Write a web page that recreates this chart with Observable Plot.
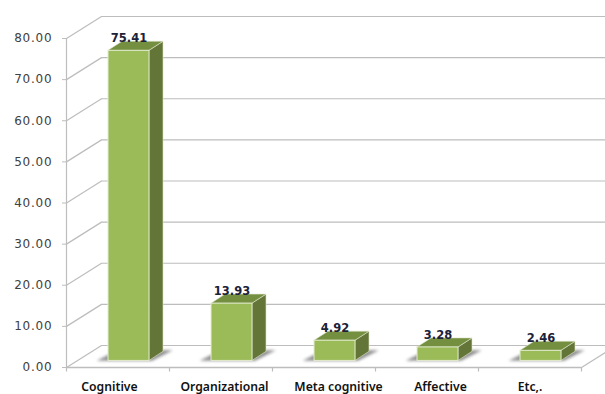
<!DOCTYPE html>
<html>
<head>
<meta charset="utf-8">
<script src="https://cdn.jsdelivr.net/npm/d3@7"></script>
<script src="https://cdn.jsdelivr.net/npm/@observablehq/plot@0.6"></script>
<style>
  html, body { margin: 0; padding: 0; background: #fff; }
  svg { display: block; }
  g[aria-label="y-axis tick label"] { letter-spacing: 0.8px; }
</style>
</head>
<body>
<div id="chart"></div>
<script>
// Share of strategy types, drawn as pseudo-3D columns on a walled floor.
const categories = ["Cognitive", "Organizational", "Meta cognitive", "Affective", "Etc,."];
const values = [75.41, 13.93, 4.92, 3.28, 2.46];
const yTicks = [0, 10, 20, 30, 40, 50, 60, 70, 80];
const labelNudge = [-0.083, 0.034, 0.141, 0.131, 0];

// Projection of the floor and column depth, in x (category) and y (value) units.
const wall = {dx: 0.34, dy: 5.35};
const lift = 1.6;
const barStart = -0.092;
const barWidth = 0.398;
const depth = {dx: 0.136, dy: 2.2};

const rows = categories.map((name, i) => {
  const x1 = i + barStart;
  const x2 = x1 + barWidth;
  return {name, value: values[i], x1, x2, xm: (x1 + x2) / 2, y0: lift, y1: values[i] + lift};
});

// Two-point outlines for the parallelogram faces of each column.
const sideFace = rows.flatMap((r) => [
  {bar: r.name, x: r.x2, y1: r.y0, y2: r.y1},
  {bar: r.name, x: r.x2 + depth.dx, y1: r.y0 + depth.dy, y2: r.y1 + depth.dy}
]);
const topFace = rows.flatMap((r) => [
  {bar: r.name, y: r.y1, x1: r.x1, x2: r.x2},
  {bar: r.name, y: r.y1 + depth.dy, x1: r.x1 + depth.dx, x2: r.x2 + depth.dx}
]);
const floorShadow = rows.flatMap((r) => [
  {bar: r.name, y: lift - 0.1, x1: r.x1 - 0.11, x2: r.x2 + 0.03},
  {bar: r.name, y: lift + 2.5, x1: r.x1 + 0.09, x2: r.x2 + 0.23}
]);

const gridColor = "#bdbdbd";
const boundaries = d3.range(categories.length + 1).map((i) => i - 0.5);
const wallRight = categories.length - 0.5 + wall.dx;

const chart = Plot.plot({
  width: 605,
  height: 394,
  marginLeft: 66,
  marginRight: 24,
  marginTop: 38,
  marginBottom: 27,
  style: {background: "#fff"},
  x: {domain: [-0.5, categories.length - 0.5], axis: null},
  y: {domain: [0, 80], axis: null},
  marks: [
    // Back wall gridlines
    Plot.ruleY(yTicks, {
      y: (d) => d + wall.dy,
      x1: -0.5 + wall.dx,
      x2: wallRight,
      stroke: gridColor,
      strokeWidth: 1.2
    }),
    // Side wall diagonals
    Plot.link(yTicks, {
      x1: -0.5,
      y1: (d) => d,
      x2: -0.5 + wall.dx,
      y2: (d) => d + wall.dy,
      stroke: gridColor,
      strokeWidth: 1.2
    }),
    // Floor front edge and right-hand diagonal
    Plot.ruleY([0], {x1: -0.5, x2: categories.length - 0.5, stroke: gridColor, strokeWidth: 1.5}),
    Plot.link([0], {
      x1: categories.length - 0.5,
      y1: 0,
      x2: wallRight,
      y2: wall.dy,
      stroke: gridColor,
      strokeWidth: 1.2
    }),
    Plot.ruleX(boundaries, {y1: 0, y2: -1.1, stroke: gridColor, strokeWidth: 1.2}),
    Plot.axisY({
      ticks: yTicks,
      tickFormat: d3.format(".2f"),
      tickSize: 4,
      tickPadding: 10,
      stroke: gridColor,
      fill: "#404040",
      fontSize: 12,
      fontFamily: "DejaVu Sans",
      label: null
    }),
    Plot.ruleX([-0.5], {y1: 0, y2: 80, stroke: gridColor, strokeWidth: 1.2}),
    // Soft shadows cast on the floor
    Plot.areaX(floorShadow, {
      y: "y",
      x1: "x1",
      x2: "x2",
      z: "bar",
      fill: "#555",
      fillOpacity: 0.65,
      imageFilter: "blur(1.5px)"
    }),
    // Column faces
    Plot.areaY(sideFace, {
      x: "x",
      y1: "y1",
      y2: "y2",
      z: "bar",
      fill: "#647637",
      stroke: "#dfe6cc",
      strokeWidth: 0.6
    }),
    Plot.areaX(topFace, {
      y: "y",
      x1: "x1",
      x2: "x2",
      z: "bar",
      fill: "#748f40",
      stroke: "#dfe6cc",
      strokeWidth: 0.6
    }),
    Plot.rect(rows, {
      x1: "x1",
      x2: "x2",
      y1: "y0",
      y2: "y1",
      fill: "#9bbb59",
      stroke: "#e3ebcf",
      strokeWidth: 1
    }),
    // Value labels above the columns
    Plot.text(rows, {
      x: "xm",
      y: "y1",
      text: (d) => d.value.toFixed(2),
      dy: -12.5,
      fontSize: 11.5,
      fontWeight: 700,
      fontFamily: "DejaVu Sans",
      fill: "#1c2238"
    }),
    // Category labels below the floor
    Plot.text(categories, {
      x: (d, i) => i + labelNudge[i],
      y: -4.7,
      text: (d) => d,
      fontSize: 12.2,
      fontWeight: 600,
      fontFamily: "Noto Sans",
      fill: "#111"
    })
  ]
});

document.getElementById("chart").appendChild(chart);
</script>
</body>
</html>
